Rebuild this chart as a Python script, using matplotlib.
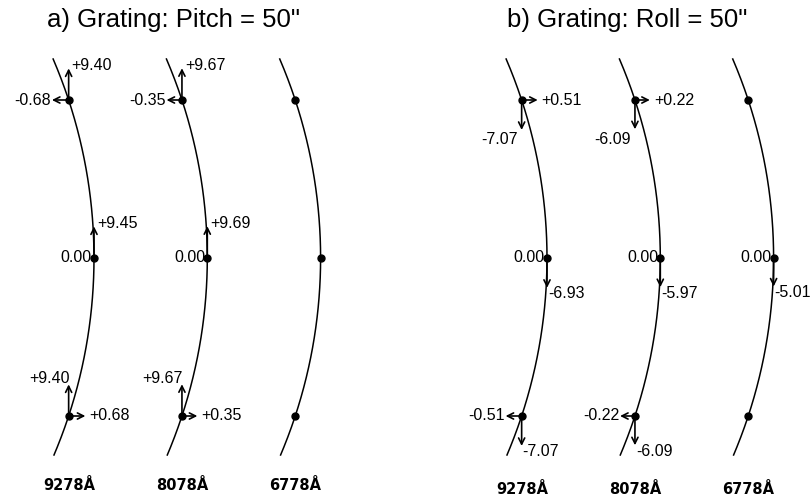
import numpy as np
import matplotlib.pyplot as plt

# field point image shifts (top, centre, bottom) for each wavelength, in arcsec-ish units
wavelengths = ['9278Å', '8078Å', '6778Å']
nan = np.nan
pitch_dx = [[-0.68, 0.00, 0.68], [-0.35, 0.00, 0.35], [nan, nan, nan]]
pitch_dy = [[9.40, 9.45, 9.40], [9.67, 9.69, 9.67], [nan, nan, nan]]
roll_dx = [[0.51, 0.00, -0.51], [0.22, 0.00, -0.22], [nan, 0.00, nan]]
roll_dy = [[-7.07, -6.93, -7.07], [-6.09, -5.97, -6.09], [nan, -5.01, nan]]
titles = ['a) Grating: Pitch = 50"', 'b) Grating: Roll = 50"']

# layout in pixels
W, H = 812, 501
panel_x = [94, 547]
col_step = 113.3
y_mid = 258
field_off = [-158, 0, 158]
R = 505.0
num_font = dict(family='Liberation Sans', fontsize=11.5)


def fmt(v):
    if v == 0:
        return '0.00'
    return '%+.2f' % v


def arrow(ax, x0, y0, x1, y1):
    ax.annotate('', xy=(x1, y1), xytext=(x0, y0),
                arrowprops=dict(arrowstyle='->', lw=1.2, color='black',
                                shrinkA=0, shrinkB=0, mutation_scale=11))


fig = plt.figure(figsize=(W / 100, H / 100), dpi=100)
ax = fig.add_axes([0, 0, 1, 1])
ax.set_xlim(0, W)
ax.set_ylim(H, 0)
ax.axis('off')

for p, (dxs, dys) in enumerate([(pitch_dx, pitch_dy), (roll_dx, roll_dy)]):
    ax.text(panel_x[p] + 80, 20, titles[p], ha='center', va='center',
            family='Liberation Sans', fontsize=18.5)
    for c in range(3):
        xm = panel_x[p] + c * col_step
        yy = np.linspace(-199, 197, 200)
        xx = xm - (R - np.sqrt(R ** 2 - yy ** 2))
        ax.plot(xx, y_mid + yy, color='black', lw=1.1)

        for f in range(3):
            dy_pix = field_off[f]
            px = xm - (R - np.sqrt(R ** 2 - dy_pix ** 2))
            py = y_mid + dy_pix
            ax.plot(px, py, 'o', color='black', ms=5, zorder=5)

            dx, dy = dxs[c][f], dys[c][f]
            # horizontal shift
            if not np.isnan(dx):
                if dx == 0:
                    ax.text(px - 2, py, fmt(dx), ha='right', va='center', **num_font)
                else:
                    hl = (14 + 4 * abs(dx)) * np.sign(dx)
                    arrow(ax, px, py, px + hl, py)
                    if dx < 0:
                        ax.text(px + hl - 1, py, fmt(dx), ha='right', va='center', **num_font)
                    else:
                        ax.text(px + hl + 4, py, fmt(dx), ha='left', va='center', **num_font)
            # vertical shift (positive = up)
            if not np.isnan(dy):
                vl = (25 + 0.7 * abs(dy)) * np.sign(dy)
                tx, ty = px, py - vl
                arrow(ax, px, py, tx, ty)
                if dy > 0:
                    if f == 2:
                        ax.text(tx + 1, ty - 6, fmt(dy), ha='right', va='center', **num_font)
                    else:
                        ax.text(tx + 3, ty - 3, fmt(dy), ha='left', va='center', **num_font)
                else:
                    if f == 0:
                        ax.text(tx - 4, ty + 10, fmt(dy), ha='right', va='center', **num_font)
                    else:
                        ax.text(tx + 1, ty + 6, fmt(dy), ha='left', va='center', **num_font)

        ax.text(xm - 25, 486 + 4 * p, wavelengths[c], ha='center', va='center',
                family='DejaVu Sans', fontweight='bold', fontsize=10.5)

fig.savefig('out.png', dpi=100)
